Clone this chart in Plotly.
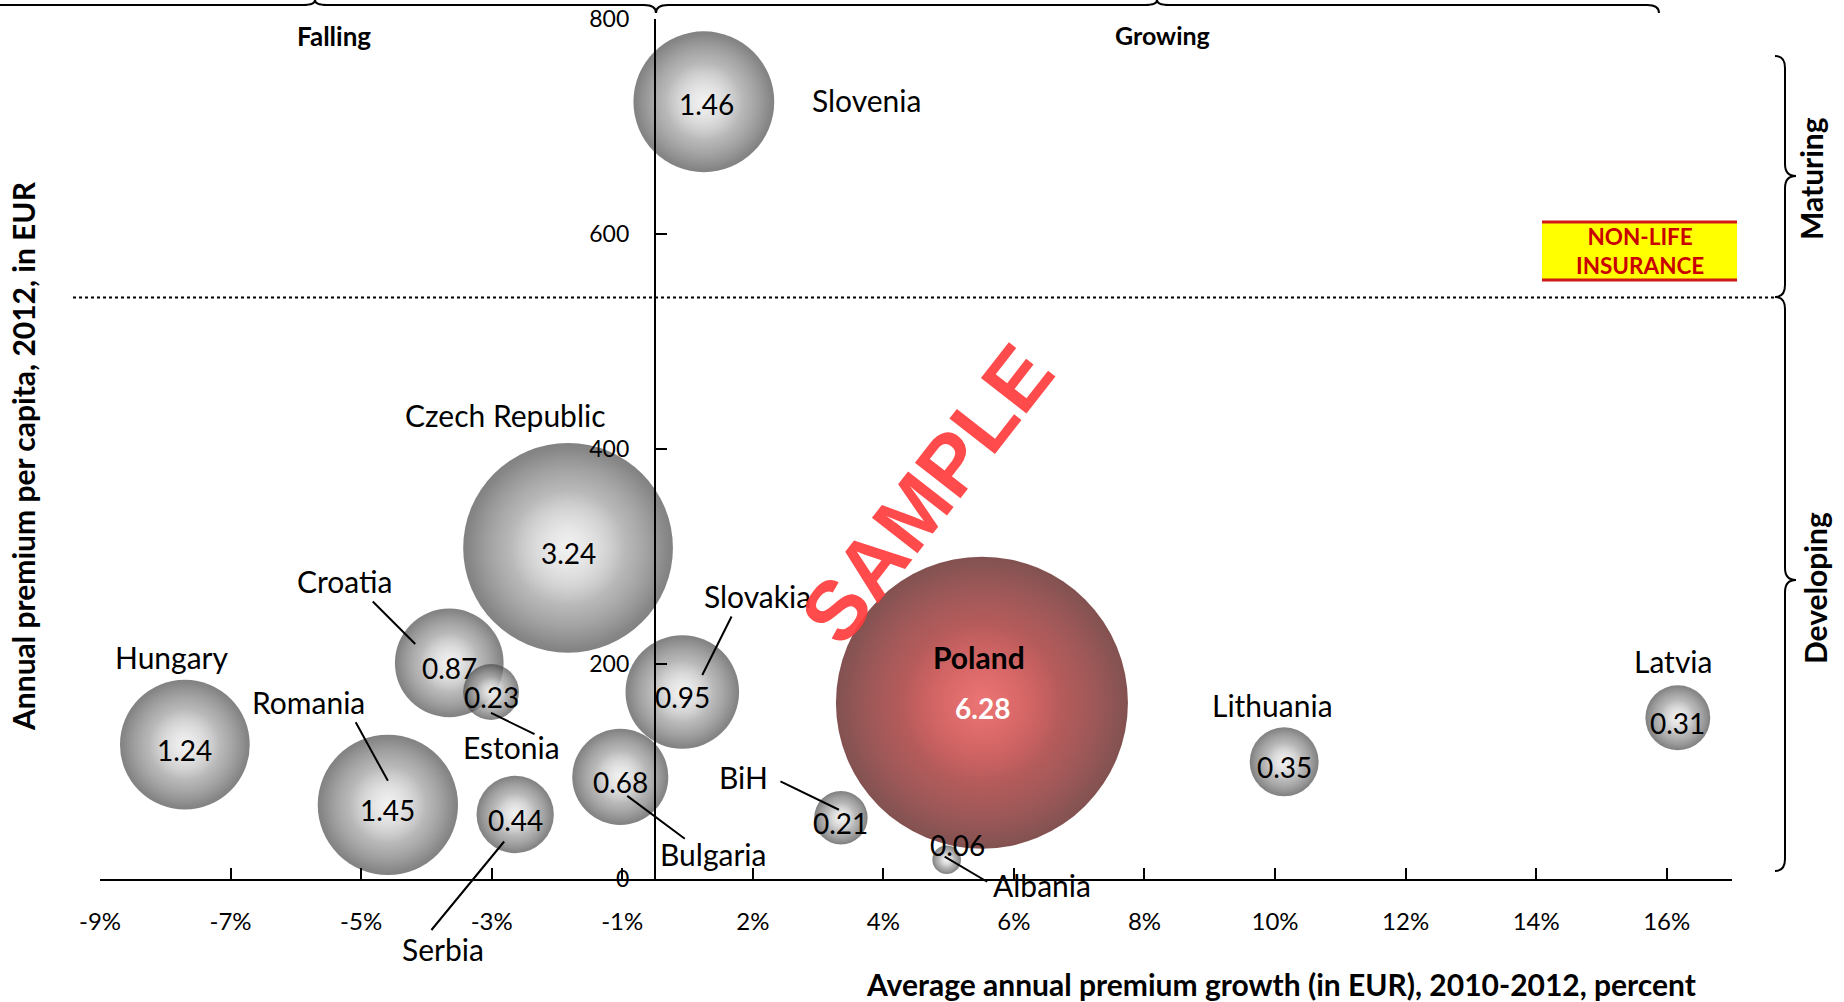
import plotly.graph_objects as go

# ---------------- data ----------------
COUNTRIES = ["Hungary", "Romania", "Croatia", "Estonia", "Serbia", "Czech Republic",
             "Bulgaria", "Slovakia", "Slovenia", "BiH", "Albania", "Lithuania",
             "Latvia", "Poland"]
PREMIUM_GROWTH = [-7.20, -4.09, -3.15, -2.51, -2.14, -1.33, -0.53, 0.42, 0.75,
                  2.85, 4.47, 9.64, 15.67, 5.01]          # % per year, 2010-2012
PREMIUM_PER_CAPITA = [125, 69, 201, 174, 60, 308, 95, 174, 723, 57, 18, 109, 150, 164]  # EUR
MARKET_SIZE = [1.24, 1.45, 0.87, 0.23, 0.44, 3.24, 0.68, 0.95, 1.46, 0.21, 0.06,
               0.35, 0.31, 6.28]                      # bubble value
HIGHLIGHT = "Poland"

X_TICK_VALS = [-8.5, -6.5, -4.5, -2.5, -0.5, 1.5, 3.5, 5.5, 7.5, 9.5, 11.5, 13.5, 15.5]
X_TICK_TEXT = ["-9%", "-7%", "-5%", "-3%", "-1%", "2%", "4%", "6%", "8%", "10%",
               "12%", "14%", "16%"]
Y_TICK_VALS = [0, 200, 400, 600, 800]
MATURITY_THRESHOLD = 541

# ---------------- layout / style ----------------
W, H = 1844, 1002
ML, MR, MT, MB = 100, 112, 19, 123
PW, PH = W - ML - MR, H - MT - MB
X_RANGE = [-8.5, 16.5]
Y_RANGE = [0, 800]
FONT = "Lato, 'Open Sans', sans-serif"
MAX_DIAM = 292  # px diameter of the largest bubble

def px_x(px):
    return (px - ML) / PW

def px_y(py):
    return (H - MB - py) / PH

# text offsets (px, right / up) relative to the bubble centre
LABEL_SHIFT = {
    "Slovenia": (163, 2), "Czech Republic": (-63, 133), "Croatia": (-105, 82),
    "Estonia": (20, -55), "Hungary": (-13, 88), "Romania": (-79, 103),
    "Serbia": (-72, -134), "Bulgaria": (93, -77), "Slovakia": (75, 96),
    "BiH": (-97, 41), "Albania": (95, -25), "Poland": (-3, 46),
    "Lithuania": (-12, 57), "Latvia": (-5, 57),
}
VALUE_SHIFT = {"Albania": (11, 15), "Slovenia": (3, -2), "Poland": (1, -5)}
LEADERS = {
    "Croatia": ((-34, 19), (-78, 63)), "Romania": ((0, 24), (-33, 84)),
    "Estonia": ((0, -21), (45, -43)), "Serbia": ((-11, -27), (-85, -117)),
    "Bulgaria": ((7, -19), (66, -63)), "Slovakia": ((20, 17), (50, 77)),
    "BiH": ((-2, 8), (-62, 37)), "Albania": ((-2, 3), (42, -23)),
}
SIZEREF = 2 * max(MARKET_SIZE) / MAX_DIAM ** 2

# sphere shading layers: (area fraction, edge colour, centre colour)
GRAY_LAYERS = [(1.0, "#4c4c4c", "#d4d4d4"),
               (0.90, "rgba(212,212,212,0)", "rgba(212,212,212,1)"),
               (0.30, "rgba(255,255,255,0)", "rgba(255,255,255,0.95)")]
RED_LAYERS = [(1.0, "#4e0606", "#d04646"),
              (0.90, "rgba(200,66,66,0)", "rgba(200,66,66,1)"),
              (0.30, "rgba(255,130,130,0)", "rgba(255,140,140,0.85)")]

fig = go.Figure()
for c, x, y, v in zip(COUNTRIES, PREMIUM_GROWTH, PREMIUM_PER_CAPITA, MARKET_SIZE):
    layers = RED_LAYERS if c == HIGHLIGHT else GRAY_LAYERS
    for frac, edge, centre in layers:
        fig.add_trace(go.Scatter(
            x=[x], y=[y], mode="markers",
            marker=dict(size=[v * frac], sizemode="area", sizeref=SIZEREF, color=edge,
                        line=dict(width=0), gradient=dict(type="radial", color=centre)),
            cliponaxis=False, hoverinfo="skip", showlegend=False))

ann = []
shapes = []
for c, x, y, v in zip(COUNTRIES, PREMIUM_GROWTH, PREMIUM_PER_CAPITA, MARKET_SIZE):
    hl = c == HIGHLIGHT
    dx, dy = LABEL_SHIFT[c]
    ann.append(dict(x=x, y=y, xref="x", yref="y", xshift=dx, yshift=dy,
                    text=f"<b>{c}</b>" if hl else c, showarrow=False,
                    xanchor="center", yanchor="middle",
                    font=dict(family=FONT, size=30, color="black")))
    vx, vy = VALUE_SHIFT.get(c, (0, -5))
    ann.append(dict(x=x, y=y, xref="x", yref="y", xshift=vx, yshift=vy,
                    text=f"<b>{v:.2f}</b>" if hl else f"{v:.2f}", showarrow=False,
                    xanchor="center", yanchor="middle",
                    font=dict(family=FONT, size=28, color="white" if hl else "black")))
    if c in LEADERS:
        (sx, sy), (ex, ey) = LEADERS[c]
        ann.append(dict(x=x, y=y, xref="x", yref="y", xshift=sx, yshift=sy,
                        ax=ex - sx, ay=-(ey - sy), text="", showarrow=True,
                        arrowhead=0, arrowwidth=2, arrowcolor="black",
                        standoff=0, startstandoff=0))

# dotted maturity threshold
shapes.append(dict(type="line", xref="paper", yref="y", x0=px_x(73), x1=px_x(1776),
                   y0=MATURITY_THRESHOLD, y1=MATURITY_THRESHOLD,
                   line=dict(color="black", width=2, dash="dot")))


def P(px, py):
    return f"{px_x(px):.5f},{px_y(py):.5f}"


def hbrace(x0, x1, cx, ymid, yend, ytip, r=12):
    return ("M" + P(x0, yend) + " Q" + P(x0, ymid) + " " + P(x0 + r, ymid) +
            " L" + P(cx - r, ymid) + " Q" + P(cx, ymid) + " " + P(cx, ytip) +
            " Q" + P(cx, ymid) + " " + P(cx + r, ymid) +
            " L" + P(x1 - r, ymid) + " Q" + P(x1, ymid) + " " + P(x1, yend))


def vbrace(y0, y1, cy, xmid, xend, xtip, r=12):
    return ("M" + P(xend, y0) + " Q" + P(xmid, y0) + " " + P(xmid, y0 + r) +
            " L" + P(xmid, cy - r) + " Q" + P(xmid, cy) + " " + P(xtip, cy) +
            " Q" + P(xmid, cy) + " " + P(xmid, cy + r) +
            " L" + P(xmid, y1 - r) + " Q" + P(xmid, y1) + " " + P(xend, y1))


brace_line = dict(color="black", width=2)
for path in [hbrace(-14, 656, 315, 5, 13, 0), hbrace(656, 1659, 1157, 5, 13, 0),
             vbrace(56, 297, 176, 1785, 1775, 1796), vbrace(297, 871, 580, 1785, 1775, 1796)]:
    shapes.append(dict(type="path", xref="paper", yref="paper", path=path, line=brace_line))

# NON-LIFE INSURANCE box
shapes.append(dict(type="rect", xref="paper", yref="paper", x0=px_x(1542), x1=px_x(1737),
                   y0=px_y(281), y1=px_y(221), fillcolor="#ffff00", line=dict(width=0)))
for yy in (222, 280):
    shapes.append(dict(type="line", xref="paper", yref="paper", x0=px_x(1542), x1=px_x(1737),
                       y0=px_y(yy), y1=px_y(yy), line=dict(color="#d01818", width=3)))


def paper_text(px, py, text, size, angle=0, color="black", family=FONT):
    return dict(x=px_x(px), y=px_y(py), xref="paper", yref="paper", showarrow=False,
                xanchor="center", yanchor="middle", text=text, textangle=angle,
                align="center", font=dict(family=family, size=size, color=color))


ann += [
    paper_text(1640, 251, "<b>NON-LIFE<br>INSURANCE</b>", 22.5, color="#c80000"),
    paper_text(334, 36, "<b>Falling</b>", 26),
    paper_text(1162, 35, "<b>Growing</b>", 25),
    paper_text(1811, 179, "<b>Maturing</b>", 30, angle=-90),
    paper_text(1815, 588, "<b>Developing</b>", 30, angle=-90),
    paper_text(1281, 984, "<b>Average annual premium growth (in EUR), 2010-2012, percent</b>", 30),
    paper_text(23, 456, "<b>Annual premium per capita, 2012, in EUR</b>", 30, angle=-90),
    paper_text(927, 494, "<b>SAMPLE</b>", 84, angle=-52, color="rgba(255,60,60,0.92)",
               family="'Liberation Sans', Arial, sans-serif"),
]

fig.update_layout(
    width=W, height=H, autosize=False,
    margin=dict(l=ML, r=MR, t=MT, b=MB, pad=0, autoexpand=False),
    paper_bgcolor="white", plot_bgcolor="white",
    font=dict(family=FONT, color="black"),
    xaxis=dict(range=X_RANGE, showgrid=False, zeroline=False, showline=True,
               linecolor="black", linewidth=2, ticks="inside", ticklen=11,
               tickwidth=2, tickcolor="black", tickvals=X_TICK_VALS,
               ticktext=X_TICK_TEXT, tickfont=dict(family=FONT, size=24),
               ticklabelstandoff=20, automargin=False),
    yaxis=dict(range=Y_RANGE, showgrid=False, zeroline=False, showline=True,
               linecolor="black", linewidth=2, ticks="inside", ticklen=11,
               tickwidth=2, tickcolor="black", tickvals=Y_TICK_VALS,
               tickfont=dict(family=FONT, size=23), anchor="free",
               position=(0 - X_RANGE[0]) / (X_RANGE[1] - X_RANGE[0]),
               ticklabelstandoff=20, automargin=False),
    shapes=shapes, annotations=ann,
)

fig.write_html("out.html")
